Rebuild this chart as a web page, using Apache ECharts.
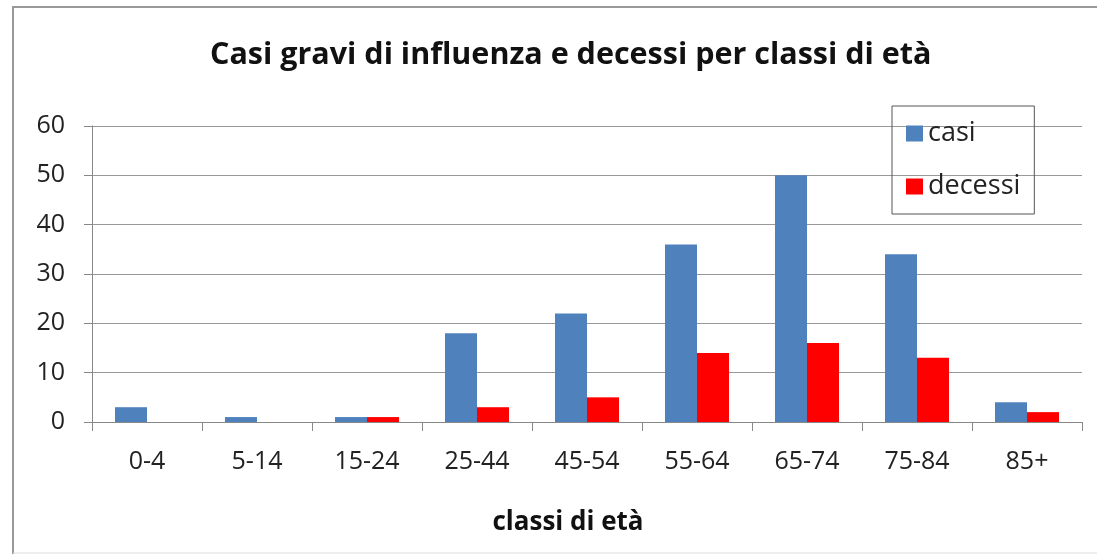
<!DOCTYPE html>
<html>
<head>
<meta charset="utf-8">
<script src="https://cdn.jsdelivr.net/npm/echarts@6/dist/echarts.min.js"></script>
<style>
  html, body { margin: 0; padding: 0; background: #fff; }
  #chart { width: 1097px; height: 554px; }
</style>
</head>
<body>
<div id="chart"></div>
<script>
// classi di età
const categories = ['0-4', '5-14', '15-24', '25-44', '45-54', '55-64', '65-74', '75-84', '85+']
// casi gravi
const casi = [3, 1, 1, 18, 22, 36, 50, 34, 4]
// decessi
const decessi = [0, 0, 1, 3, 5, 14, 16, 13, 2]

const font = '"Open Sans", "Liberation Sans", sans-serif'

const chart = echarts.init(document.getElementById('chart'))

const option = {
  animation: false,
  textStyle: { fontFamily: font },
  title: {
    text: 'Casi gravi di influenza e decessi per classi di età',
    left: 205,
    top: 35,
    textStyle: { fontSize: 30.5, fontWeight: 'bold', color: '#111', fontFamily: font }
  },
  legend: {
    orient: 'vertical',
    left: 892,
    top: 106,
    itemWidth: 17,
    itemHeight: 16,
    itemGap: 26,
    padding: [14, 14, 14, 14],
    borderColor: '#555',
    borderWidth: 1,
    icon: 'rect',
    textStyle: { fontSize: 27, color: '#222', fontFamily: font },
    data: ['casi', 'decessi']
  },
  grid: {
    left: 92,
    right: 15,
    top: 126,
    bottom: 132
  },
  xAxis: {
    type: 'category',
    data: categories,
    name: 'classi di età',
    nameLocation: 'middle',
    nameGap: 88,
    nameTextStyle: { fontSize: 26, fontWeight: 'bold', color: '#111', fontFamily: font, padding: [0, 38, 0, 0] },
    axisLine: { lineStyle: { color: '#888' } },
    axisTick: { show: true, length: 9, lineStyle: { color: '#888' } },
    axisLabel: { fontSize: 25, color: '#222', margin: 27, fontFamily: font }
  },
  yAxis: {
    type: 'value',
    min: 0,
    max: 60,
    interval: 10,
    axisLine: { show: true, lineStyle: { color: '#888' } },
    axisTick: { show: true, length: 8, lineStyle: { color: '#888' } },
    axisLabel: { fontSize: 25, color: '#222', margin: 27, fontFamily: font },
    splitLine: { lineStyle: { color: '#999', width: 1 } }
  },
  series: [
    {
      name: 'casi',
      type: 'bar',
      data: casi,
      barWidth: 32,
      barGap: '0%',
      itemStyle: { color: '#4F81BD' }
    },
    {
      name: 'decessi',
      type: 'bar',
      data: decessi,
      barWidth: 32,
      itemStyle: { color: '#FF0000' }
    }
  ],
  graphic: [
    // cornice esterna
    {
      type: 'polyline',
      shape: { points: [[13, 554], [13, 7], [1097, 7]] },
      style: { fill: null, stroke: '#999', lineWidth: 2 },
      silent: true
    },
    {
      type: 'line',
      shape: { x1: 13, y1: 553, x2: 1097, y2: 553 },
      style: { stroke: '#ddd', lineWidth: 1 },
      silent: true
    }
  ]
}

chart.setOption(option)
</script>
</body>
</html>
